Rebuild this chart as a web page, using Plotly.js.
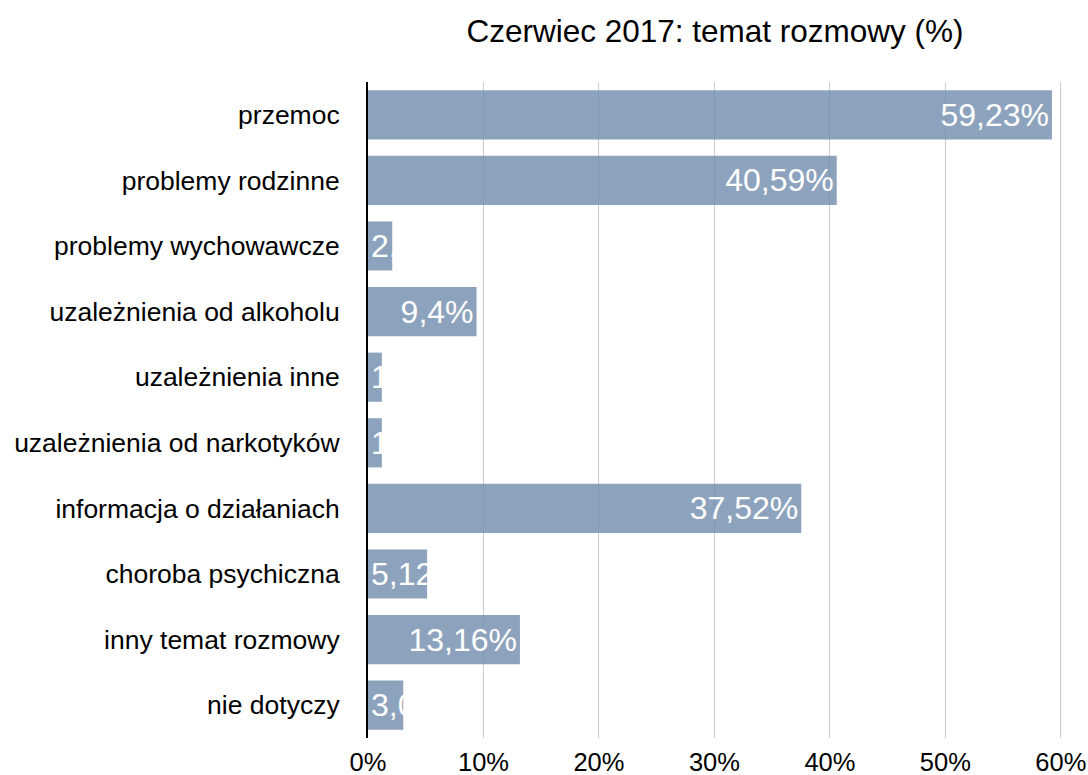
<!DOCTYPE html>
<html>
<head>
<meta charset="utf-8">
<script src="https://cdn.plot.ly/plotly-3.0.1.min.js"></script>
<style>html,body{margin:0;padding:0;background:#fff;}#chart{width:1088px;height:775px;}</style>
</head>
<body>
<div id="chart"></div>
<script>
const categories = [
  "przemoc",
  "problemy rodzinne",
  "problemy wychowawcze",
  "uzależnienia od alkoholu",
  "uzależnienia inne",
  "uzależnienia od narkotyków",
  "informacja o działaniach",
  "choroba psychiczna",
  "inny temat rozmowy",
  "nie dotyczy"
];
const values = [59.23, 40.59, 2.1, 9.4, 1.2, 1.2, 37.52, 5.12, 13.16, 3.05];
const xTickVals = [0, 10, 20, 30, 40, 50, 60];
const xTickText = ["0%", "10%", "20%", "30%", "40%", "50%", "60%"];
const titleText = "Czerwiec 2017: temat rozmowy (%)";

const labels = values.map(v => String(v).replace('.', ',') + '%');
const SMALL = 8; // labels that do not fit are anchored at bar start
const barColor = 'rgba(112,140,172,0.8)';
const font = "'Liberation Sans', Arial, Helvetica, sans-serif";

function mk(filterFn, anchor) {
  return {
    type: 'bar',
    orientation: 'h',
    y: categories,
    x: values.map(v => filterFn(v) ? v : null),
    text: values.map((v, i) => filterFn(v) ? labels[i] : ''),
    textposition: 'inside',
    insidetextanchor: anchor,
    constraintext: 'none',
    textangle: 0,
    textfont: {color: '#ffffff', size: 32, family: font},
    marker: {color: barColor, line: {width: 0}},
    hoverinfo: 'y+x',
    showlegend: false,
    cliponaxis: true
  };
}

const data = [
  mk(v => v >= SMALL, 'end'),
  mk(v => v < SMALL, 'start')
];

const layout = {
  width: 1088,
  height: 775,
  margin: {l: 368, r: 26, t: 82, b: 37},
  paper_bgcolor: '#ffffff',
  plot_bgcolor: '#ffffff',
  barmode: 'overlay',
  bargap: 0.25,
  font: {family: font, color: '#000000'},
  title: {
    text: titleText,
    font: {size: 31.5, family: font, color: '#000'},
    x: 0.5, xref: 'paper', xanchor: 'center',
    y: 1 - 31/775, yref: 'container', yanchor: 'middle'
  },
  xaxis: {
    range: [0, 60.1],
    tickvals: xTickVals,
    ticktext: xTickText,
    showgrid: true,
    gridcolor: '#cccccc',
    gridwidth: 1,
    zeroline: false,
    showline: false,
    ticks: '',
    ticklabelstandoff: 6,
    tickfont: {size: 25.5, family: font, color: '#000'},
    fixedrange: true
  },
  yaxis: {
    type: 'category',
    categoryorder: 'array',
    categoryarray: categories,
    autorange: 'reversed',
    showgrid: false,
    zeroline: false,
    showline: true,
    linecolor: '#000000',
    linewidth: 2,
    ticks: '',
    ticklabelstandoff: 21,
    tickfont: {size: 26.5, family: font, color: '#000'},
    fixedrange: true
  }
};

Plotly.newPlot('chart', data, layout, {displayModeBar: false, staticPlot: true});
</script>
</body>
</html>
